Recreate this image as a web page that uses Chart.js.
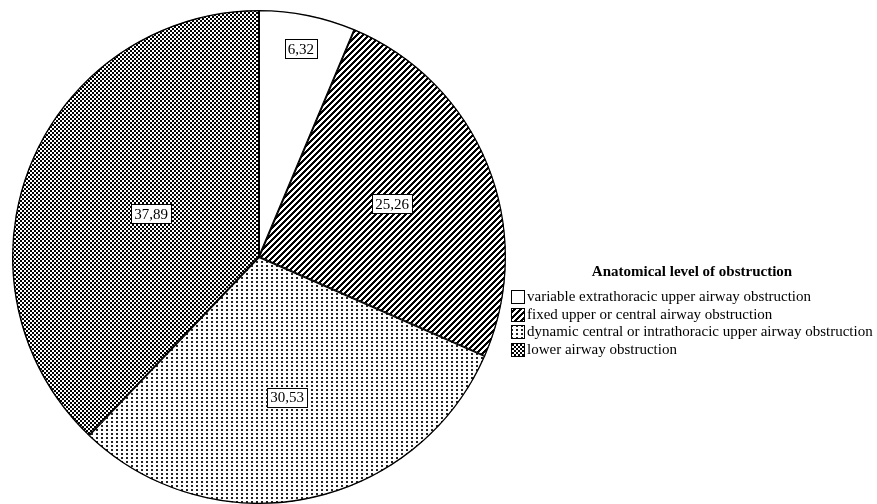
<!DOCTYPE html>
<html>
<head>
<meta charset="utf-8">
<script src="https://cdn.jsdelivr.net/npm/chart.js@4/dist/chart.umd.min.js"></script>
<style>
  html, body { margin: 0; padding: 0; background: #fff; }
  #wrap { width: 877px; height: 504px; position: relative; }
</style>
</head>
<body>
<div id="wrap"><canvas id="myChart" width="877" height="504"></canvas></div>
<script>
// data
const categories = [
  "variable extrathoracic upper airway obstruction",
  "fixed upper or central airway obstruction",
  "dynamic central or intrathoracic upper airway obstruction",
  "lower airway obstruction"
];
const percents = [6.32, 25.26, 30.53, 37.89];
const valueLabels = ["6,32", "25,26", "30,53", "37,89"];
const legendTitle = "Anatomical level of obstruction";

// fill patterns, like the old SPSS hatchings
function makePattern(w, h, painter) {
  const c = document.createElement("canvas");
  c.width = w; c.height = h;
  const g = c.getContext("2d");
  g.fillStyle = "#fff";
  g.fillRect(0, 0, w, h);
  painter(g);
  return g.createPattern(c, "repeat");
}
const plain = "#ffffff";
const stripes = makePattern(6, 6, g => {
  g.fillStyle = "#000";
  for (let y = 0; y < 6; y++)
    for (let x = 0; x < 6; x++)
      if ((x + y) % 6 < 3) g.fillRect(x, y, 1, 1);
});
const dots = makePattern(5, 4, g => {
  g.fillStyle = "#222";
  g.fillRect(1, 1, 2, 2);
});
const checker = makePattern(4, 4, g => {
  g.fillStyle = "#000";
  g.fillRect(0, 0, 2, 2);
  g.fillRect(2, 2, 2, 2);
});
const fills = [plain, stripes, dots, checker];

const serif = "'Liberation Serif', 'Times New Roman', serif";

// boxed value labels inside slices
const sliceLabels = {
  id: "sliceLabels",
  afterDatasetsDraw(chart, args, opts) {
    const ctx = chart.ctx;
    const arcs = chart.getDatasetMeta(0).data;
    ctx.save();
    ctx.font = "15px " + serif;
    ctx.textAlign = "center";
    ctx.textBaseline = "middle";
    arcs.forEach((arc, i) => {
      const p = arc.getProps(["x", "y", "startAngle", "endAngle", "outerRadius"], true);
      const mid = (p.startAngle + p.endAngle) / 2;
      const r = p.outerRadius * opts.radius[i];
      const x = p.x + Math.cos(mid) * r;
      const y = p.y + Math.sin(mid) * r;
      const txt = valueLabels[i];
      const w = Math.round(ctx.measureText(txt).width + 6);
      const h = 19;
      const bx = Math.round(x - w / 2) + 0.5, by = Math.round(y - h / 2) + 0.5;
      ctx.fillStyle = "#fff";
      ctx.fillRect(bx, by, w, h);
      ctx.strokeStyle = "#000";
      ctx.lineWidth = 1;
      ctx.strokeRect(bx, by, w, h);
      ctx.fillStyle = "#000";
      ctx.fillText(txt, x, y + 1);
    });
    ctx.restore();
  }
};

// legend on the right, title on top
const sideLegend = {
  id: "sideLegend",
  afterDraw(chart, args, opts) {
    const ctx = chart.ctx;
    const x0 = opts.x, y0 = opts.y;
    ctx.save();
    ctx.textBaseline = "middle";
    ctx.font = "bold 15px " + serif;
    ctx.fillStyle = "#000";
    ctx.textAlign = "center";
    ctx.fillText(legendTitle, opts.titleX, y0 - 25);
    ctx.textAlign = "left";
    ctx.font = "15px " + serif;
    chart.data.labels.forEach((lab, i) => {
      const y = Math.round(y0 + i * 17.7);
      ctx.fillStyle = fills[i];
      ctx.fillRect(x0, y - 7, 13, 13);
      ctx.strokeStyle = "#000";
      ctx.lineWidth = 1;
      ctx.strokeRect(x0 + 0.5, y - 6.5, 13, 13);
      ctx.fillStyle = "#000";
      ctx.fillText(lab, x0 + 16, y);
    });
    ctx.restore();
  }
};

const data = {
  labels: categories,
  datasets: [
    {
      data: percents,
      backgroundColor: fills,
      borderColor: "#000",
      borderWidth: 1,
      borderAlign: "inner"
    }
  ]
};

const config = {
  type: "pie",
  data: data,
  options: {
    responsive: false,
    animation: false,
    layout: { padding: { left: 12, right: 371, top: 10, bottom: 0 } },
    plugins: {
      legend: { display: false },
      tooltip: { enabled: false },
      sliceLabels: { radius: [0.86, 0.58, 0.58, 0.47] },
      sideLegend: { x: 511, y: 297, titleX: 692 }
    }
  },
  plugins: [sliceLabels, sideLegend]
};

const myChart = new Chart(document.getElementById("myChart"), config);
</script>
</body>
</html>
